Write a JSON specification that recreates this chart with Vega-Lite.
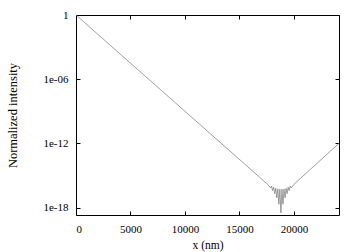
{
  "$schema": "https://vega.github.io/schema/vega-lite/v6.json",
  "width": 263,
  "height": 200,
  "autosize": "none",
  "padding": {"left": 76, "top": 15, "right": 21, "bottom": 37},
  "background": "white",
  "config": {
    "view": {"stroke": "#000", "strokeWidth": 1},
    "font": "Liberation Serif",
    "axis": {
      "domain": false,
      "grid": false,
      "tickColor": "#000",
      "tickSize": -4,
      "tickWidth": 1,
      "labelFont": "Liberation Serif",
      "labelFontSize": 11,
      "labelColor": "#000",
      "titleFont": "Liberation Serif",
      "titleFontSize": 11,
      "titleFontWeight": "normal",
      "titleColor": "#000"
    }
  },
  "data": {
    "values": [
      {"x": 0, "I": 1},
      {"x": 17600, "I": 1.413e-16},
      {"x": 17850, "I": 6.61e-17},
      {"x": 17945, "I": 1.023e-16},
      {"x": 18040, "I": 3.80e-17},
      {"x": 18135, "I": 7.76e-17},
      {"x": 18230, "I": 1.95e-17},
      {"x": 18325, "I": 6.31e-17},
      {"x": 18420, "I": 8.13e-18},
      {"x": 18515, "I": 5.50e-17},
      {"x": 18610, "I": 2.00e-18},
      {"x": 18705, "I": 5.13e-17},
      {"x": 18800, "I": 3.16e-19},
      {"x": 18895, "I": 5.13e-17},
      {"x": 18990, "I": 2.00e-18},
      {"x": 19085, "I": 5.50e-17},
      {"x": 19180, "I": 8.13e-18},
      {"x": 19275, "I": 6.31e-17},
      {"x": 19370, "I": 1.95e-17},
      {"x": 19465, "I": 7.76e-17},
      {"x": 19560, "I": 3.80e-17},
      {"x": 19655, "I": 1.023e-16},
      {"x": 19750, "I": 6.61e-17},
      {"x": 20000, "I": 1.51e-16},
      {"x": 24130, "I": 1e-12}
    ]
  },
  "layer": [
    {
      "mark": {"type": "line", "color": "#777", "strokeWidth": 0.7, "clip": true},
      "encoding": {
        "x": {
          "field": "x", "type": "quantitative",
          "scale": {"domain": [0, 24130], "nice": false, "zero": false},
          "axis": {"orient": "bottom", "title": "x (nm)", "titleFontSize": 11.5, "values": [0, 5000, 10000, 15000, 20000], "format": "d", "labelPadding": 12, "titlePadding": 5}
        },
        "y": {
          "field": "I", "type": "quantitative",
          "scale": {"type": "log", "domain": [2e-19, 1], "nice": false},
          "axis": {"orient": "left", "title": "Normalized intensity", "titleFontSize": 12.5, "values": [1e-18, 1e-12, 1e-06, 1],
            "labelExpr": "datum.value >= 0.5 ? '1' : '1e-' + format(round(-log(datum.value) / LN10), '02d')",
            "labelPadding": 12, "titlePadding": 23}
        }
      }
    },
    {
      "mark": {"type": "line", "opacity": 0, "clip": true},
      "encoding": {
        "x": {
          "field": "x", "type": "quantitative",
          "axis": {"orient": "top", "title": null, "labels": false, "values": [0, 5000, 10000, 15000, 20000]}
        },
        "y": {
          "field": "I", "type": "quantitative",
          "axis": {"orient": "right", "title": null, "labels": false, "values": [1e-18, 1e-12, 1e-06, 1]}
        }
      }
    }
  ],
  "resolve": {"axis": {"x": "independent", "y": "independent"}}
}
